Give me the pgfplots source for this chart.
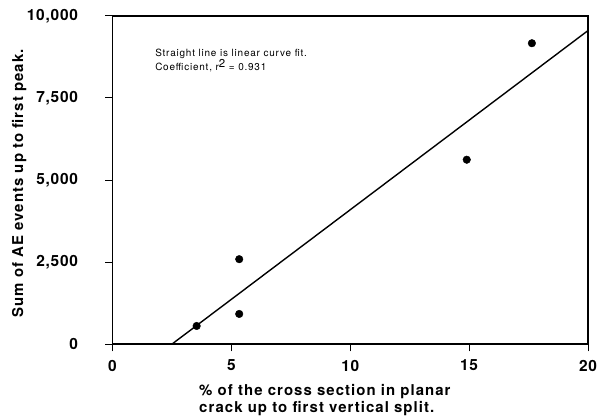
\documentclass[border=0pt]{standalone}
\usepackage{fontspec}
\setmainfont{TeX Gyre Heros}
\usepackage{pgfplots}
\pgfplotsset{compat=1.18}
\begin{document}
\begin{tikzpicture}
\begin{axis}[
  scale only axis,
  width=475.5bp, height=328.5bp,
  xmin=0, xmax=20, ymin=0, ymax=10000,
  xtick={0,5,10,15,20},
  ytick={0,2500,5000,7500,10000},
  yticklabels={0,{2,500},{5,000},{7,500},{10,000}},
  scaled y ticks=false,
  tick pos=left,
  tick align=outside,
  major tick length=7bp,
  axis line style={line width=1.8bp},
  tick style={line width=1bp, black},
  /pgf/number format/assume math mode=true,
  ticklabel style={font=\bfseries\fontsize{15.5}{15}\selectfont\addfontfeatures{LetterSpace=5}},
  xticklabel style={yshift=-5bp},
  yticklabel style={xshift=-24bp},
  xlabel={\% of the cross section in planar\\crack up to first vertical split.},
  xlabel style={at={(rel axis cs:0.182,0)}, anchor=north west, yshift=-40bp,
    align=left, inner sep=0pt,
    font=\bfseries\fontsize{15}{17}\selectfont\addfontfeatures{LetterSpace=7}},
  ylabel={Sum of AE events up to first peak.},
  ylabel style={at={(rel axis cs:-0.196,0.49)}, anchor=center,
    inner sep=0pt,
    font=\bfseries\fontsize{15}{17}\selectfont\addfontfeatures{LetterSpace=7}},
  clip=false,
]
\coordinate (ll) at (rel axis cs:0,0);

% linear curve fit
\addplot[black, line width=1.4bp] coordinates {(2.49,0) (20,9550)};

% measured points
\addplot[only marks, mark=*, mark size=3.8bp, black] coordinates {
  (3.54,558) (5.33,924) (5.33,2591) (14.9,5619) (17.64,9165)
};

\node[anchor=north west, inner sep=0pt, align=left,
  font=\fontsize{10}{10}\selectfont\addfontfeatures{LetterSpace=8}] at (axis cs:1.79,8990)
  {Straight line is linear curve fit.\\Coefficient, r\raisebox{3bp}{\fontsize{11.5}{11}\selectfont 2} = 0.931};
\end{axis}
\pgfresetboundingbox
\path (ll) ++(-112.5bp,-74.7bp) rectangle ++(601bp,419bp);
\end{tikzpicture}
\end{document}
